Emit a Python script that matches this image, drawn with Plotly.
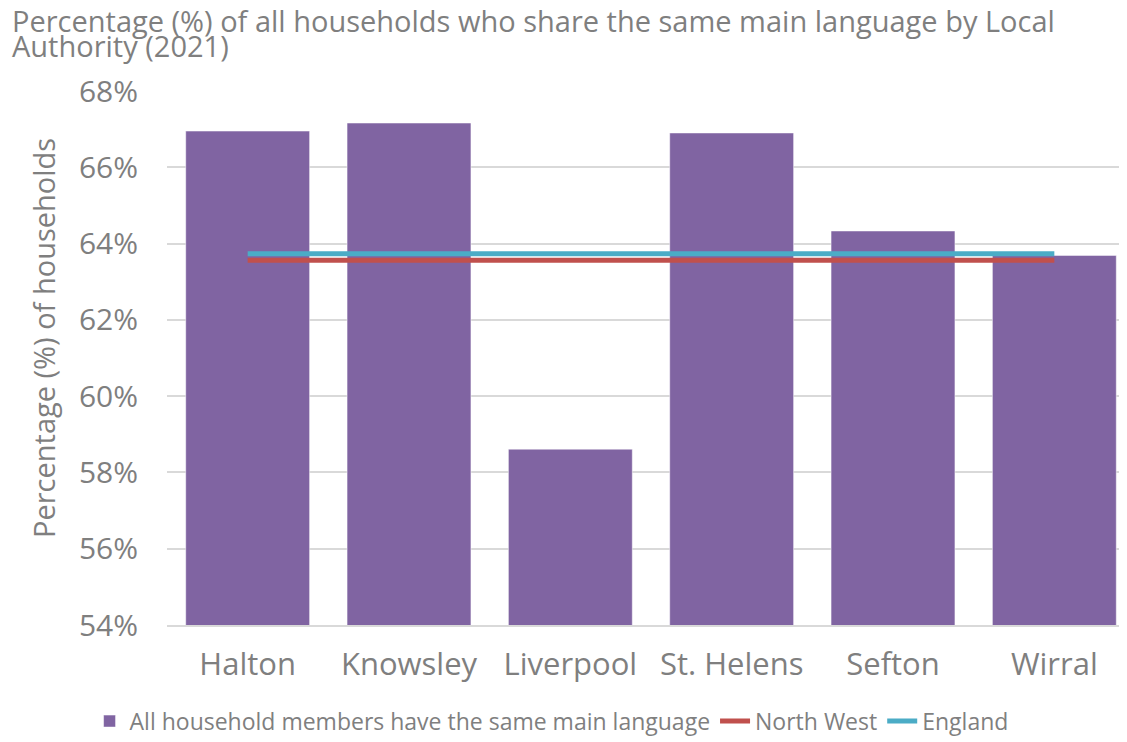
import plotly.graph_objects as go

categories = ["Halton", "Knowsley", "Liverpool", "St. Helens", "Sefton", "Wirral"]
same_language = [66.95, 67.16, 58.61, 66.90, 64.33, 63.69]
north_west = [63.56] * 6
england = [63.73] * 6
y_ticks = [54, 56, 58, 60, 62, 64, 66, 68]
y_tick_labels = [f"{v}%" for v in y_ticks]

FONT = "Open Sans"
GREY = "#7f7f7f"

fig = go.Figure()
fig.add_trace(go.Bar(
    x=categories, y=same_language,
    name="All household members have the same main language",
    marker=dict(color="#8064A2", line=dict(color="#ffffff", width=0.5)),
))
fig.add_trace(go.Scatter(
    x=categories, y=north_west, name="North West", mode="lines",
    line=dict(color="#C0504D", width=5),
))
fig.add_trace(go.Scatter(
    x=categories, y=england, name="England", mode="lines",
    line=dict(color="#4BACC6", width=5),
))

fig.update_layout(
    width=1127, height=742,
    margin=dict(l=159, r=0, t=83, b=125),
    paper_bgcolor="white", plot_bgcolor="white",
    font=dict(family=FONT, color=GREY),
    bargap=0.232,
    showlegend=True,
    legend=dict(
        orientation="h", x=-0.08, xanchor="left", y=-0.18, yanchor="middle",
        font=dict(size=23, color=GREY, family=FONT),
        tracegroupgap=0,
    ),
    xaxis=dict(
        range=[-0.5, 5.5], showgrid=False, zeroline=False,
        showline=True, linecolor="#D9D9D9", linewidth=1.5,
        tickfont=dict(size=31, color=GREY, family=FONT),
        ticks="", ticklabelstandoff=11,
    ),
    yaxis=dict(
        range=[54, 68], tickvals=y_ticks, ticktext=y_tick_labels,
        showgrid=True, gridcolor="#D9D9D9", gridwidth=1.5,
        zeroline=False, showline=False,
        tickfont=dict(size=30, color=GREY, family=FONT),
        ticks="", ticklabelstandoff=28,
    ),
    annotations=[
        dict(text="Percentage (%) of all households who share the same main language by Local",
             xref="paper", yref="paper", x=0, y=1, xshift=-157, yshift=71,
             xanchor="left", yanchor="middle", showarrow=False,
             font=dict(size=29, color=GREY, family=FONT)),
        dict(text="Authority (2021)",
             xref="paper", yref="paper", x=0, y=1, xshift=-157, yshift=46,
             xanchor="left", yanchor="middle", showarrow=False,
             font=dict(size=29, color=GREY, family=FONT)),
        dict(text="Percentage (%) of households",
             xref="paper", yref="paper", x=0, y=0.5, xshift=-124, yshift=20,
             xanchor="center", yanchor="middle", textangle=-90, showarrow=False,
             font=dict(size=29, color=GREY, family=FONT)),
    ],
)

fig.write_html("out.html")
